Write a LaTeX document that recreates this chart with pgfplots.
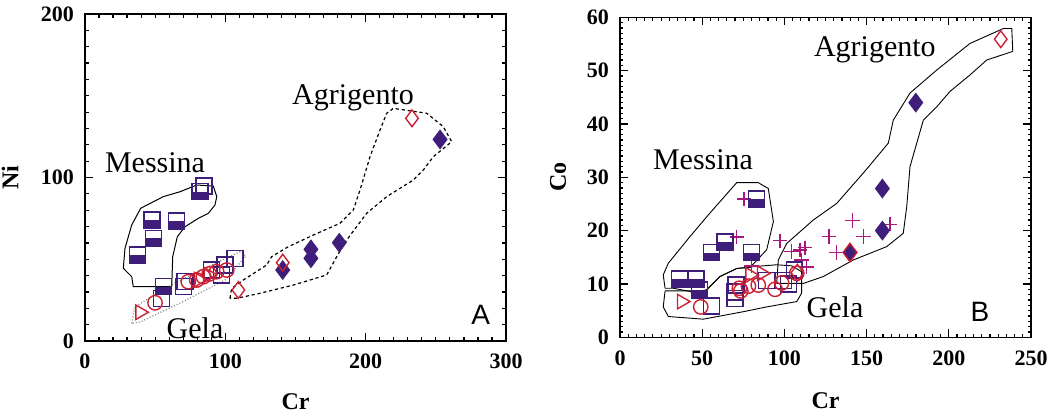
\documentclass[border=0pt]{standalone}
\usepackage{fontspec}
\setmainfont{Liberation Serif}
\newfontfamily\arialf{Liberation Sans}
\usepackage{pgfplots}
\pgfplotsset{compat=1.18}

\definecolor{indigo}{RGB}{62,30,122}
\definecolor{cred}{RGB}{204,32,52}
\definecolor{cmag}{RGB}{168,22,122}

% square, lower half filled
\pgfdeclareplotmark{halfsq}{%
  \pgfpathrectangle{\pgfpoint{-\pgfplotmarksize}{-\pgfplotmarksize}}{\pgfpoint{2\pgfplotmarksize}{\pgfplotmarksize}}%
  \pgfusepathqfill
  \pgfpathrectangle{\pgfpoint{-\pgfplotmarksize}{-\pgfplotmarksize}}{\pgfpoint{2\pgfplotmarksize}{2\pgfplotmarksize}}%
  \pgfusepathqstroke}

\tikzset{lab/.style={font=\fontsize{15}{15}\selectfont}}

\pgfplotsset{
  geo/.style={
    scale only axis, clip=false,
    axis line style={line width=0.8pt},
    tick align=inside,
    major tick length=4pt, minor tick length=2pt,
    tick style={black, line width=0.6pt},
    ticklabel style={font=\fontsize{11}{11}\selectfont\bfseries},
    /pgf/number format/assume math mode=true,
    label style={font=\fontsize{12}{12}\selectfont\bfseries},
    yticklabel style={xshift=-2pt},
    xticklabel style={yshift=-3pt},
  },
  hs/.style={only marks, mark=halfsq, mark size=4pt, color=indigo, mark options={line width=0.7pt, fill=indigo}},
  osq/.style={only marks, mark=square, mark size=4pt, color=indigo, mark options={line width=0.7pt}},
  circ/.style={only marks, mark=o, mark size=3.6pt, color=cred, mark options={line width=0.7pt}},
  tri/.style={only marks, mark=triangle, mark size=4.2pt, color=cred, mark options={line width=0.7pt, rotate=-90}},
  odia/.style={only marks, mark=diamond, mark size=4.2pt, color=cred, mark options={line width=0.7pt}},
  fdia/.style={only marks, mark=diamond*, mark size=4.6pt, color=indigo, mark options={line width=0.5pt}},
  pls/.style={only marks, mark=+, mark size=3.6pt, color=cmag, mark options={line width=0.7pt}},
  outl/.style={black, line width=0.5pt, no marks},
}

\begin{document}
\begin{tikzpicture}
\useasboundingbox (-42.5pt,-36.5pt) rectangle (486.5pt,170.5pt);

% ---------------- A: Ni vs Cr ----------------
\begin{axis}[geo, at={(0pt,0pt)}, anchor=south west,
  width=210.5pt, height=163.5pt,
  xmin=0, xmax=300, ymin=0, ymax=200,
  xtick={0,100,200,300}, ytick={0,100,200},
  minor x tick num=9, minor y tick num=9,
  xlabel={Cr}, ylabel={Ni},
  xlabel style={at={(axis description cs:0.5,0)}, anchor=center, yshift=-30.5pt},
  ylabel style={at={(axis description cs:0,0.5)}, anchor=center, yshift=37.5pt},
]
% Messina
\addplot[outl] coordinates {(27.3,44.5) (28.5,56.7) (33.3,71.0) (39.7,81.2) (55.8,88.3) (67.7,91.3) (79.6,95.4) (91.4,94.8) (93.9,88.3) (92.6,83.2) (87.9,78.1) (80.7,75.0) (71.3,69.9) (65.8,63.8) (62.5,51.6) (61.8,33.2) (34.4,33.2) (33.3,39.3) (27.3,44.5)};
% Gela
\addplot[outl, gray, densely dotted, line width=0.6pt] coordinates {(33.3,10.8) (35.6,21.0) (64.1,35.5) (85.5,44.6) (110.5,54.6) (114.7,52.0) (99.8,37.3) (67.7,23.2) (39.2,11.6) (33.3,10.8)};
% Agrigento
\addplot[outl, dash pattern=on 1.6pt off 1.4pt, line width=0.6pt] coordinates {(103.3,26.1) (104.5,32.2) (112.8,37.3) (129.5,46.5) (133.0,51.6) (144.9,57.7) (162.7,64.8) (181.7,72.0) (191.2,80.1) (196.0,92.4) (203.1,112.7) (210.2,129.0) (215.0,139.3) (219.7,142.3) (243.5,139.3) (255.3,131.1) (261.3,121.9) (248.2,112.7) (241.1,104.6) (234.0,98.5) (215.0,88.3) (200.7,78.1) (186.5,61.8) (179.4,51.6) (172.2,40.4) (148.4,34.2) (124.7,29.2) (108.1,26.1) (103.3,26.1)};

\addplot[hs] coordinates {(37.3,52.6) (48.7,62.8) (47.7,74) (65.3,73.4) (82,91.3) (55.8,33.2)};
\addplot[osq] coordinates {(84.8,94.8) (54.6,26.1) (70,33.2) (71.3,36.3) (90.3,43.4) (97.4,40.4) (99.8,46.5) (106.9,50.6)};
\addplot[circ] coordinates {(49.9,23.4) (73.6,36.3) (79.6,37.3) (84.3,39.3) (88.5,41) (93.8,42.4) (101,43.4)};
\addplot[tri] coordinates {(39.2,17.6) (81,37.5) (88,40.5)};
\addplot[odia] coordinates {(109.3,31.2) (233,136.2)};
\addplot[fdia] coordinates {(140.9,43.4) (161,56.1) (161,50.6) (181.2,60.1) (253,123.3)};
\addplot[odia] coordinates {(140.9,47.9)};

\node[lab] at (axis cs:49.9,108.9) {Messina};
\node[lab] at (axis cs:191,149) {Agrigento};
\node[lab] at (axis cs:78.4,8) {Gela};
\node[font=\arialf\fontsize{14}{14}\selectfont] at (axis cs:282,16) {A};
\end{axis}

% ---------------- B: Co vs Cr ----------------
\begin{axis}[geo, at={(267.5pt,1.85pt)}, anchor=south west,
  width=205.5pt, height=160pt,
  xmin=0, xmax=250, ymin=0, ymax=60,
  xtick={0,50,...,250}, ytick={0,10,...,60},
  minor x tick num=9, minor y tick num=9,
  minor tick length=1.6pt,
  xlabel={Cr}, ylabel={Co},
  xlabel style={at={(axis description cs:0.5,0)}, anchor=center, yshift=-31.5pt},
  ylabel style={at={(axis description cs:0,0.5)}, anchor=center, yshift=31pt},
]
% Messina
\addplot[outl, line width=0.45pt] coordinates {(27.4,9.2) (26.3,11.7) (29.4,13.9) (42.6,18.9) (54.7,23.3) (71.0,29.0) (84.1,29.0) (90.2,27.9) (93.3,21.7) (89.2,16.4) (79.1,13.1) (71.0,12.9) (60.8,11.4) (52.7,8.9) (49.7,7.6) (42.6,8.6) (32.4,9.2) (27.4,9.2)};
% Gela
\addplot[outl, line width=0.45pt] coordinates {(27.4,8.7) (26.3,5.7) (29.4,3.9) (50.7,3.4) (75.0,4.8) (89.2,5.7) (107.5,6.7) (110.5,8.3) (110.5,12.3) (104.4,13.4) (95.3,13.6) (79.1,13.2) (71.0,12.9) (60.8,11.4) (52.7,8.9) (48.7,8.7) (27.4,8.7)};
% Agrigento
\addplot[outl, line width=0.45pt] coordinates {(95.3,10.1) (96.3,14.5) (101.4,17.6) (117.6,22.0) (131.8,25.1) (148.0,30.8) (163.2,36.4) (166.2,40.7) (176.4,45.8) (192.6,50.1) (212.9,55.1) (233.2,57.9) (238.3,57.9) (238.9,53.6) (223.1,52.0) (212.9,49.2) (200.7,46.1) (192.6,43.2) (184.5,40.7) (176.4,32.0) (174.4,24.5) (172.3,19.5) (162.2,17.0) (141.9,14.5) (123.7,11.4) (111.5,10.1) (95.3,10.1)};

\addplot[pls] coordinates {(75.4,25.9) (71,18.8) (80.1,13.4) (97.3,18.1) (104.4,16.1) (109.5,16.4) (112.5,16.8) (110.5,14.5) (113.5,13.2) (127.2,18.9) (131.8,15.9) (141.5,21.9) (148,18.9) (164.2,21.2)};
\addplot[hs] coordinates {(83.1,25.9) (63.9,17.9) (55.8,15.9) (80.1,15.9) (36.1,10.9) (46.2,10.9) (48.2,8.9)};
\addplot[osq] coordinates {(55.8,5.9) (70.6,9.8) (70,8.5) (70,7.3) (89.2,10.6) (99.3,10.7) (102.4,10.0) (106,12.6)};
\addplot[circ] coordinates {(49.1,5.7) (72.6,9.2) (73.5,8.7) (78.1,9.6) (84.1,9.8) (94.3,9) (98.3,10.2) (107.5,12)};
\addplot[tri] coordinates {(37.5,6.7) (79.1,11.7) (86.2,12)};
\addplot[odia] coordinates {(231.6,55.9) (107.9,12.1)};
\addplot[fdia] coordinates {(179.9,44) (159.6,27.9) (159.6,20)};
\addplot[fdia, mark options={draw=cred, line width=0.7pt}] coordinates {(139.9,15.9)};

\node[lab] at (axis cs:50.5,33.3) {Messina};
\node[lab] at (axis cs:155,53.9) {Agrigento};
\node[lab] at (axis cs:130.8,5.7) {Gela};
\node[font=\arialf\fontsize{14}{14}\selectfont] at (axis cs:219,4.8) {B};
\end{axis}
\end{tikzpicture}
\end{document}
